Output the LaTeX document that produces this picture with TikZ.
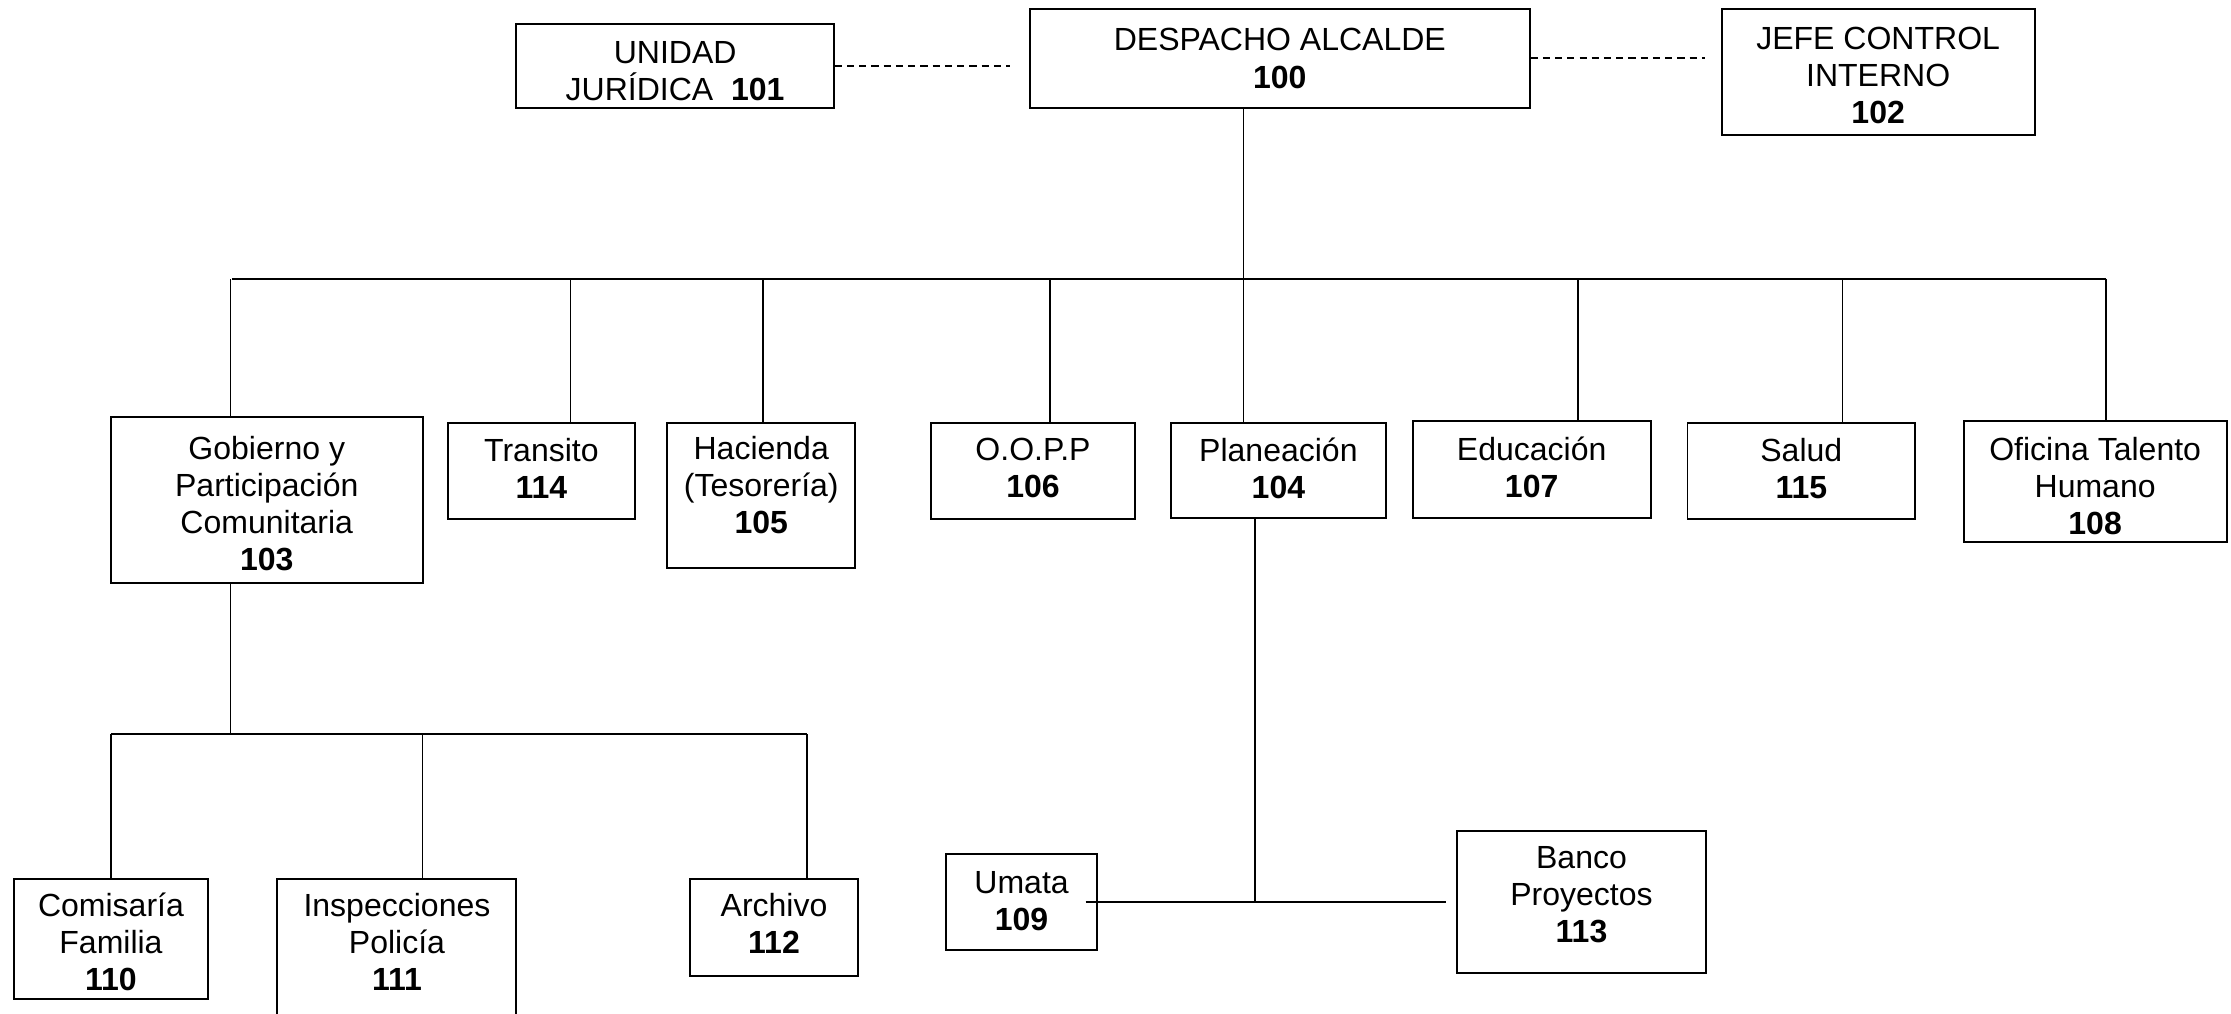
\documentclass[tikz,border=0pt]{standalone}
\usepackage{fontspec}
\setmainfont{Liberation Sans}
\usetikzlibrary{fit}
\newcommand\orgunit[7]{%
  \node[orgbox, fit={(#2,#3) (#4,#5)}] (#1) {};
  \node[orgtxt] (t#1) at ({(#2+#4)/2},#6) {#7};}
\begin{document}
\begin{tikzpicture}[x=1pt,y=-1pt,
  orgbox/.style={draw, line width=1.4pt, inner sep=0pt},
  orgtxt/.style={align=center, inner sep=0pt, font=\fontsize{22.5}{26}\selectfont},
  link/.style={line width=1.25pt},
  sublink/.style={line width=1.4pt},
  buslink/.style={line width=1.9pt},
  dashlink/.style={line width=1.25pt, dash pattern=on 5pt off 3.6pt}]
\useasboundingbox (0,0) rectangle (1568,712);
% top level
\orgunit{n101}{363}{17}{586}{76}{50}{UNIDAD\\JURÍDICA\ \ \textbf{101}}
\orgunit{n100}{724}{6}{1075}{76}{41}{DESPACHO ALCALDE\\[1pt]\textbf{100}}
\orgunit{n102}{1210}{6}{1430}{95}{53}{JEFE CONTROL\\INTERNO\\\textbf{102}}
% second level
\orgunit{n103}{78}{293}{297}{410}{354}{Gobierno y\\Participación\\Comunitaria\\\textbf{103}}
\orgunit{n114}{315}{297}{446}{365}{329}{Transito\\\textbf{114}}
\orgunit{n105}{469}{297}{601}{399}{341}{Hacienda\\(Tesorería)\\\textbf{105}}
\orgunit{n106}{654}{297}{798}{365}{329}{O.O.P.P\\\textbf{106}}
\orgunit{n104}{823}{297}{974}{364}{329}{Planeación\\\textbf{104}}
\orgunit{n107}{993}{296}{1160}{364}{328.5}{Educación\\\textbf{107}}
\orgunit{n115}{1186}{297}{1346}{365}{329}{Salud\\\textbf{115}}
\orgunit{n108}{1380}{296}{1565}{381}{341.5}{Oficina Talento\\Humano\\\textbf{108}}
% third level
\orgunit{n110}{10}{618}{146}{702}{662}{Comisaría\\Familia\\\textbf{110}}
\orgunit{n111}{195}{618}{363}{720}{662}{Inspecciones\\Policía\\\textbf{111}}
\orgunit{n112}{485}{618}{603}{686}{649}{Archivo\\\textbf{112}}
\orgunit{n109}{665}{600}{771}{668}{633}{Umata\\\textbf{109}}
\orgunit{n113}{1024}{584}{1199}{684}{629}{Banco\\Proyectos\\\textbf{113}}
% dashed staff links
\coordinate (d101) at (710,46.5);
\coordinate (d102) at (1198,41);
\draw[dashlink] (n101.east) -- (d101);
\draw[dashlink] (n100.east) -- (d102);
% main bus
\coordinate (busL) at (163,196);
\coordinate (busR) at (1480,196);
\draw[buslink] (busL) -- (busR);
\coordinate (j103) at (162,196);
\coordinate (j114) at (401,196);
\coordinate (j105) at (536,196);
\coordinate (j106) at (738,196);
\coordinate (j104) at (874,196);
\coordinate (j107) at (1109,196);
\coordinate (j115) at (1295,196);
\coordinate (j108) at (1480,196);
\draw[link] (n100.south -| j104) -- (j104 |- n104.north);
\draw[link] (j103) -- (j103 |- n103.north);
\draw[link] (j114) -- (j114 |- n114.north);
\draw[link] (j105) -- (j105 |- n105.north);
\draw[link] (j106) -- (j106 |- n106.north);
\draw[link] (j107) -- (j107 |- n107.north);
\draw[link] (j115) -- (j115 |- n115.north);
\draw[link] (j108) -- (j108 |- n108.north);
% Gobierno subtree
\coordinate (g103) at (162,516);
\coordinate (g110) at (78,516);
\coordinate (g111) at (297,516);
\coordinate (g112) at (567,516);
\draw[link] (g103 |- n103.south) -- (g103);
\draw[sublink] (g110) -- (g112);
\draw[link] (g110) -- (g110 |- n110.north);
\draw[link] (g111) -- (g111 |- n111.north);
\draw[link] (g112) -- (g112 |- n112.north);
% Planeacion subtree
\coordinate (p104) at (882,634);
\coordinate (p109) at (763,634);
\coordinate (p113) at (1016,634);
\draw[link] (p104 |- n104.south) -- (p104);
\draw[sublink] (p109) -- (p113);
\end{tikzpicture}
\end{document}
